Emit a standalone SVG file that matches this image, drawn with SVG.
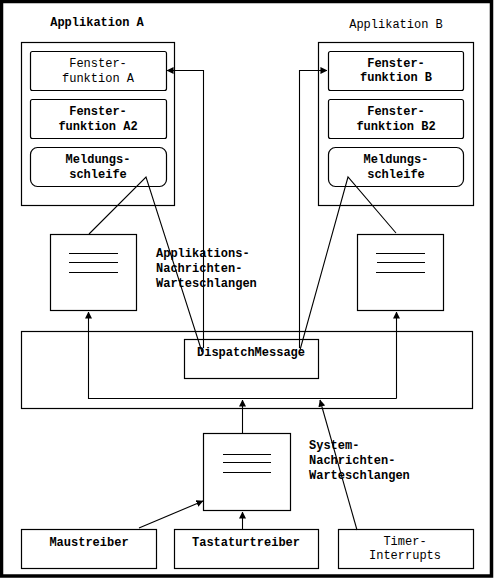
<svg xmlns="http://www.w3.org/2000/svg" width="494" height="580" viewBox="0 0 494 580">
<style>
.b{fill:#fff;stroke:#000;stroke-width:1.2}
.t{font-family:"Liberation Mono","DejaVu Sans Mono",monospace;font-size:12px;fill:#000;text-anchor:middle}
.bd{font-weight:bold}
.l{stroke:#000;stroke-width:1.1;fill:none}
</style>
<defs>
<marker id="ah" viewBox="0 0 8 8" refX="7.5" refY="4" markerWidth="7" markerHeight="7" markerUnits="userSpaceOnUse" orient="auto">
<path d="M0,0 L8,4 L0,8 Z" fill="#000"/>
</marker>
</defs>
<rect x="0" y="0" width="494" height="580" fill="#fff"/>
<rect x="1.5" y="1.5" width="490" height="574.5" fill="none" stroke="#000" stroke-width="3.5"/>

<g id="appA">
<text class="t bd" x="97" y="26">Applikation A</text>
<rect class="b" x="21.5" y="42.5" width="153" height="163"/>
</g>
<g id="fensterA">
<rect class="b" x="30.5" y="51.5" width="136" height="39" rx="2"/>
<text class="t" x="98" y="67">Fenster-</text>
<text class="t" x="98" y="82">funktion A</text>
</g>
<g id="fensterA2">
<rect class="b" x="30.5" y="99.5" width="136" height="39" rx="2"/>
<text class="t bd" x="98" y="115">Fenster-</text>
<text class="t bd" x="98" y="130">funktion A2</text>
</g>
<g id="meldA">
<rect class="b" x="30.5" y="147.5" width="136" height="39" rx="7"/>
<text class="t bd" x="98" y="163">Meldungs-</text>
<text class="t bd" x="98" y="178">schleife</text>
</g>

<g id="appB">
<text class="t" x="396" y="28">Applikation B</text>
<rect class="b" x="318.5" y="42.5" width="155" height="163"/>
</g>
<g id="fensterB">
<rect class="b" x="328.5" y="51.5" width="135" height="39" rx="2"/>
<text class="t bd" x="396" y="67">Fenster-</text>
<text class="t bd" x="396" y="81">funktion B</text>
</g>
<g id="fensterB2">
<rect class="b" x="328.5" y="99.5" width="135" height="39" rx="2"/>
<text class="t bd" x="396" y="115">Fenster-</text>
<text class="t bd" x="396" y="130">funktion B2</text>
</g>
<g id="meldB">
<rect class="b" x="328.5" y="147.5" width="135" height="39" rx="7"/>
<text class="t bd" x="396" y="163">Meldungs-</text>
<text class="t bd" x="396" y="178">schleife</text>
</g>

<g id="queueA">
<rect class="b" x="50.5" y="234.5" width="86" height="76"/>
<path class="l" d="M69,253.5H118M69,262.5H118M69,272.5H118"/>
</g>
<g id="queueB">
<rect class="b" x="357.5" y="234.5" width="86" height="76"/>
<path class="l" d="M376,253.5H425M377,262.5H425M376,272.5H425"/>
</g>
<g id="appQueuesLabel">
<text class="t bd" x="156" y="257" style="text-anchor:start">Applikations-</text>
<text class="t bd" x="156" y="272" style="text-anchor:start">Nachrichten-</text>
<text class="t bd" x="156" y="287" style="text-anchor:start">Warteschlangen</text>
</g>

<g id="system">
<rect class="b" x="21.5" y="331.5" width="451" height="77"/>
</g>
<g id="dispatch">
<rect class="b" x="184.5" y="339.5" width="134" height="39"/>
<text class="t bd" x="251" y="356">DispatchMessage</text>
</g>

<g id="sysQueue">
<rect class="b" x="203.5" y="433.5" width="87" height="77"/>
<path class="l" d="M223,454.5H271M223,462.5H271M223,472.5H271"/>
</g>
<g id="sysQueuesLabel">
<text class="t bd" x="309" y="449" style="text-anchor:start">System-</text>
<text class="t bd" x="309" y="464" style="text-anchor:start">Nachrichten-</text>
<text class="t bd" x="309" y="479" style="text-anchor:start">Warteschlangen</text>
</g>

<g id="maus">
<rect class="b" x="21.5" y="529.5" width="135" height="39"/>
<text class="t bd" x="89" y="546">Maustreiber</text>
</g>
<g id="tastatur">
<rect class="b" x="174.5" y="529.5" width="144" height="39"/>
<text class="t bd" x="246" y="546">Tastaturtreiber</text>
</g>
<g id="timer">
<rect class="b" x="338.5" y="529.5" width="135" height="39"/>
<text class="t" x="405" y="545">Timer-</text>
<text class="t" x="405" y="559">Interrupts</text>
</g>

<g id="connectors">
<path class="l" d="M203.5,348V70.5H167" marker-end="url(#ah)"/>
<path class="l" d="M299.5,348V70.5H327" marker-end="url(#ah)"/>
<path class="l" d="M89,234L146,177L202,352"/>
<path class="l" d="M396,233L348,177L300,350"/>
<path class="l" d="M396.5,398.5H88.5V312" marker-end="url(#ah)"/>
<path class="l" d="M396.5,398.5V312" marker-end="url(#ah)"/>
<path class="l" d="M242.5,433V400" marker-end="url(#ah)"/>
<path class="l" d="M357,530L320,400" marker-end="url(#ah)"/>
<path class="l" d="M242.5,529V512" marker-end="url(#ah)"/>
<path class="l" d="M139,528L203,501" marker-end="url(#ah)"/>
</g>
</svg>
